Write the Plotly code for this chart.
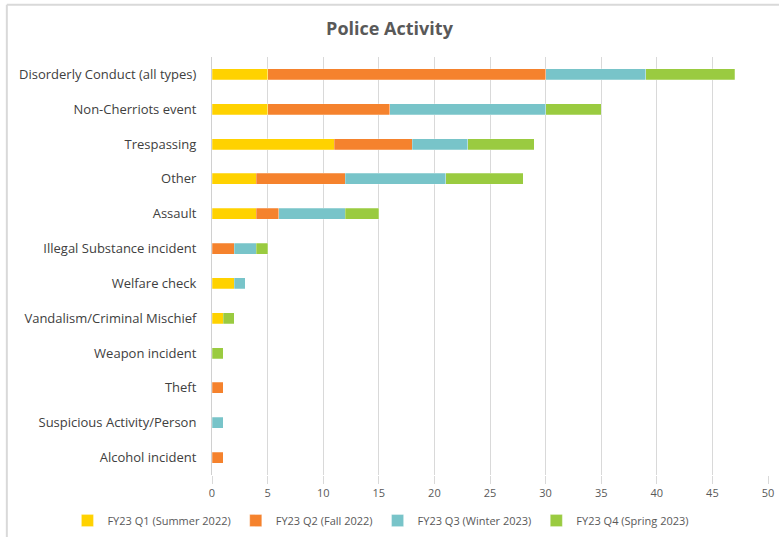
import plotly.graph_objects as go

categories = ["Disorderly Conduct (all types)", "Non-Cherriots event", "Trespassing", "Other",
              "Assault", "Illegal Substance incident", "Welfare check", "Vandalism/Criminal Mischief",
              "Weapon incident", "Theft", "Suspicious Activity/Person", "Alcohol incident"]
q1 = [5, 5, 11, 4, 4, 0, 2, 1, 0, 0, 0, 0]
q2 = [25, 11, 7, 8, 2, 2, 0, 0, 0, 1, 0, 1]
q3 = [9, 14, 5, 9, 6, 2, 1, 0, 0, 0, 1, 0]
q4 = [8, 5, 6, 7, 3, 1, 0, 1, 1, 0, 0, 0]
series_names = ["FY23 Q1 (Summer 2022)", "FY23 Q2 (Fall 2022)",
                "FY23 Q3 (Winter 2023)", "FY23 Q4 (Spring 2023)"]
colors = ["#FFD200", "#F5822D", "#78C4C9", "#9ACB40"]

fig = go.Figure()
for name, vals, c in zip(series_names, [q1, q2, q3, q4], colors):
    fig.add_trace(go.Bar(y=categories, x=vals, name=name, orientation="h",
                         marker=dict(color=c, line=dict(color="rgba(255,255,255,0.5)", width=0.5))))

fig.update_layout(
    barmode="stack",
    bargap=0.68,
    width=779, height=537,
    margin=dict(l=212, r=11, t=57, b=62, autoexpand=False),
    paper_bgcolor="white", plot_bgcolor="white",
    font=dict(family="Open Sans", color="#595959", size=11),
    title=dict(text="<b>Police Activity</b>", x=0.5, xanchor="center", y=0.947, yanchor="middle",
               font=dict(family="Open Sans", size=18, color="#595959")),
    xaxis=dict(range=[0, 50], dtick=5, showgrid=True, gridcolor="#D9D9D9", gridwidth=1,
               zeroline=False, showline=False, ticks="outside", ticklen=8, tickcolor="#D9D9D9",
               automargin=False, tickfont=dict(size=11, color="#595959")),
    yaxis=dict(autorange="reversed", showgrid=False, showline=True, linecolor="#D0D0D0",
               ticks="", ticklabelstandoff=12, automargin=False,
               tickfont=dict(size=13, color="#404040")),
    legend=dict(orientation="h", x=-0.26, xanchor="left", y=-0.109, yanchor="middle",
                itemwidth=30, font=dict(size=11, color="#595959"), traceorder="normal"),
    shapes=[
        dict(type="line", xref="paper", yref="paper", x0=-0.369, x1=1.05, y0=1.125, y1=1.125,
             line=dict(color="#D9D9D9", width=2)),
        dict(type="line", xref="paper", yref="paper", x0=-0.369, x1=-0.369, y0=1.125, y1=-0.2,
             line=dict(color="#D9D9D9", width=2)),
    ],
)

fig.write_html("out.html", config={"displayModeBar": False},
               post_script="document.body.style.margin='0';")
